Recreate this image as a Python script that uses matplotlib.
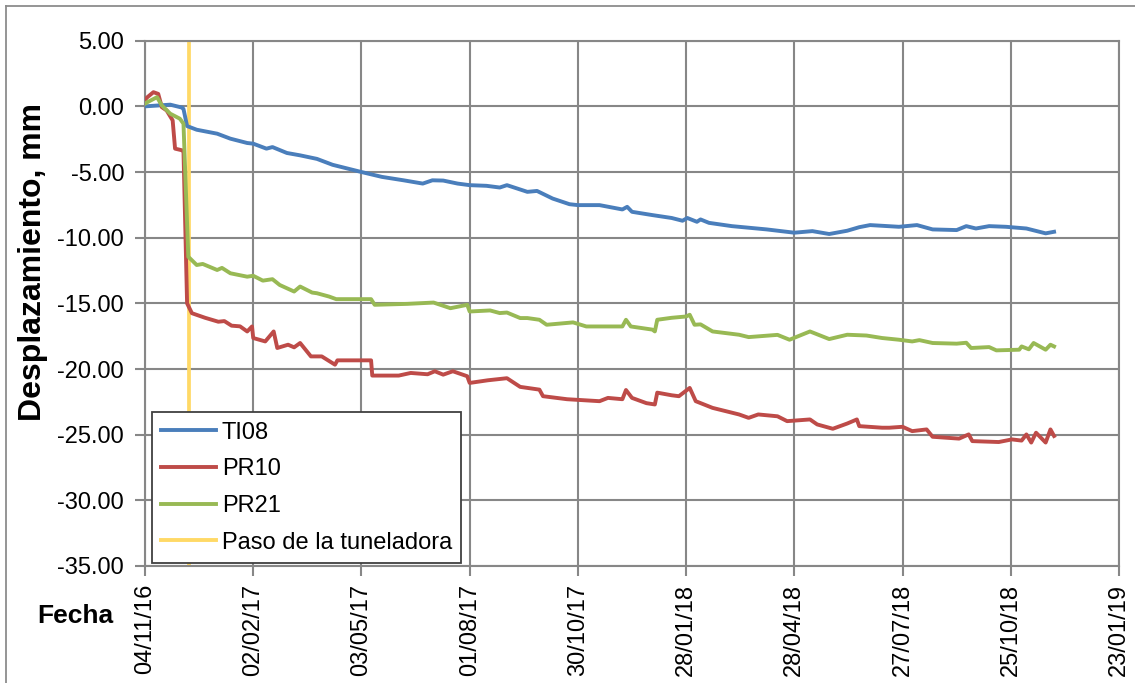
import numpy as np
import pandas as pd
import matplotlib
matplotlib.use('Agg')
import matplotlib.pyplot as plt
import matplotlib.dates as mdates
from matplotlib.lines import Line2D

plt.rcParams['font.family'] = ['Liberation Sans', 'DejaVu Sans']

start = pd.Timestamp('2016-11-04')
tbm_day = 37  # paso de la tuneladora

# days since 04/11/16, displacement in mm
ti08_days = [0, 21, 31, 32, 35, 43, 60, 71, 85, 90, 101, 106, 118, 129, 143, 156, 180, 197,
             215, 231, 239, 248, 260, 270, 284, 295, 301, 318, 326, 339, 353, 360, 378, 397,
             401, 405, 422, 438, 447, 451, 459, 462, 469, 488, 517, 540, 555, 569, 584, 594,
             603, 627, 642, 655, 675, 683, 691, 702, 716, 733, 749, 756]
ti08_vals = [0.0, 0.13, -0.1, -0.2, -1.5, -1.78, -2.08, -2.46, -2.79, -2.84, -3.22, -3.1,
             -3.55, -3.73, -4.0, -4.45, -5.0, -5.37, -5.63, -5.88, -5.63, -5.65, -5.88, -6.0,
             -6.05, -6.18, -6.0, -6.51, -6.44, -7.02, -7.45, -7.52, -7.52, -7.85, -7.65, -8.03,
             -8.28, -8.5, -8.71, -8.5, -8.79, -8.61, -8.87, -9.12, -9.37, -9.62, -9.5, -9.72,
             -9.47, -9.2, -9.04, -9.17, -9.04, -9.37, -9.42, -9.12, -9.3, -9.12, -9.17, -9.3,
             -9.67, -9.55]

pr10_days = [0, 2, 7, 11, 14, 18, 23, 25, 31, 32, 35, 39, 50, 61, 66, 72, 79, 85, 89, 90,
             100, 107, 110, 119, 124, 129, 138, 147, 158, 160, 188, 189, 199, 211, 221, 235,
             241, 248, 256, 268, 270, 285, 301, 312, 328, 331, 351, 378, 385, 397, 400, 405,
             417, 424, 426, 438, 444, 453, 458, 472, 494, 502, 510, 526, 534, 553, 559, 572,
             584, 592, 594, 613, 619, 630, 638, 650, 655, 677, 685, 688, 710, 721, 729, 733,
             737, 741, 749, 753, 756]
pr10_vals = [0.5, 0.7, 1.08, 0.95, -0.06, -0.31, -1.07, -3.22, -3.35, -3.4, -15.0, -15.75,
             -16.1, -16.4, -16.35, -16.7, -16.75, -17.14, -16.76, -17.64, -17.9, -17.14, -18.4,
             -18.15, -18.35, -18.02, -19.04, -19.04, -19.67, -19.34, -19.34, -20.5, -20.5,
             -20.5, -20.3, -20.4, -20.17, -20.43, -20.17, -20.55, -21.06, -20.86, -20.7,
             -21.36, -21.57, -22.07, -22.3, -22.45, -22.2, -22.3, -21.6, -22.2, -22.6, -22.7,
             -21.8, -22.0, -22.07, -21.44, -22.45, -22.96, -23.46, -23.72, -23.46, -23.6,
             -23.97, -23.84, -24.22, -24.55, -24.15, -23.84, -24.35, -24.47, -24.47, -24.4,
             -24.73, -24.6, -25.16, -25.3, -24.98, -25.49, -25.56, -25.36, -25.45, -24.98,
             -25.6, -24.85, -25.6, -24.6, -25.1]

pr21_days = [0, 2, 10, 14, 21, 29, 32, 36, 43, 48, 60, 64, 71, 85, 90, 98, 106, 112, 124,
             129, 139, 143, 153, 159, 188, 191, 218, 240, 254, 268, 270, 287, 295, 301, 312,
             318, 328, 334, 356, 367, 397, 400, 404, 422, 424, 426, 438, 450, 453, 457, 462,
             472, 494, 502, 526, 536, 553, 569, 584, 600, 613, 627, 638, 644, 655, 675, 683,
             687, 702, 708, 727, 729, 735, 739, 749, 753, 756]
pr21_vals = [0.2, 0.32, 0.7, 0.07, -0.56, -0.94, -1.32, -11.45, -12.08, -12.0, -12.46, -12.3,
             -12.71, -12.97, -12.9, -13.27, -13.16, -13.6, -14.1, -13.72, -14.18, -14.23,
             -14.48, -14.68, -14.68, -15.11, -15.04, -14.94, -15.37, -15.11, -15.62, -15.54,
             -15.74, -15.7, -16.12, -16.12, -16.25, -16.63, -16.45, -16.76, -16.76, -16.25,
             -16.76, -17.0, -17.14, -16.25, -16.1, -16.0, -15.87, -16.63, -16.6, -17.14,
             -17.39, -17.57, -17.4, -17.77, -17.14, -17.72, -17.39, -17.45, -17.64, -17.77,
             -17.9, -17.8, -18.02, -18.07, -18.0, -18.4, -18.33, -18.58, -18.53, -18.28,
             -18.5, -18.02, -18.53, -18.15, -18.28]

series = [('TI08', ti08_days, ti08_vals, '#4a7ebb'),
          ('PR10', pr10_days, pr10_vals, '#be4b48'),
          ('PR21', pr21_days, pr21_vals, '#98b954')]

fig = plt.figure(figsize=(11.35, 6.83), dpi=100)
ax = fig.add_axes([145/1135, 1 - 566/683, 974/1135, 525.3/683])

grid_c = '#878787'
for name, d, v, c in series:
    dates = start + pd.to_timedelta(d, unit='D')
    ax.plot(dates, v, color=c, lw=2.8, label=name, zorder=3)
tbm = start + pd.Timedelta(days=tbm_day)
ax.axvline(tbm, color='#ffd966', lw=2.7, label='Paso de la tuneladora', zorder=2)

xticks = [start + pd.Timedelta(days=90 * i) for i in range(10)]
ax.set_xticks(xticks)
ax.xaxis.set_major_formatter(mdates.DateFormatter('%d/%m/%y'))
ax.set_xlim(xticks[0], xticks[-1])
ax.set_ylim(-35, 5)
ax.set_yticks(np.arange(-35, 5.1, 5))
ax.yaxis.set_major_formatter(matplotlib.ticker.FormatStrFormatter('%.2f'))
ax.grid(True, color=grid_c, lw=1.5)
ax.set_axisbelow(True)
for s in ax.spines.values():
    s.set_color(grid_c)
    s.set_linewidth(1.5)
ax.tick_params(axis='both', colors=grid_c, width=1.5, length=7, labelcolor='black', labelsize=17)
ax.tick_params(axis='x', labelrotation=90, pad=6)
ax.tick_params(axis='y', pad=8)

fig.text(33/1135, 1 - 262/683, 'Desplazamiento, mm', fontsize=23, fontweight='bold',
         rotation=90, ha='center', va='center')
fig.text(75/1135, 1 - 616/683, 'Fecha', fontsize=19, fontweight='bold', ha='center', va='center')

leg = ax.legend(loc='lower left', bbox_to_anchor=(7/974, 3/525), fontsize=17, frameon=True,
                fancybox=False, framealpha=1, edgecolor='#404040', handlelength=2.3,
                handletextpad=0.25, labelspacing=0.62, borderaxespad=0, borderpad=0.4)
leg.get_frame().set_linewidth(1.3)
leg.set_zorder(5)
for h in leg.get_lines():
    h.set_linewidth(2.8)

# outer chart frame
fig.add_artist(Line2D([6/1135, 6/1135], [0, 1 - 6/683], color='#8c8c8c', lw=1.3))
fig.add_artist(Line2D([6/1135, 1], [1 - 6/683, 1 - 6/683], color='#8c8c8c', lw=1.3))

fig.savefig('out.png', dpi=100)
